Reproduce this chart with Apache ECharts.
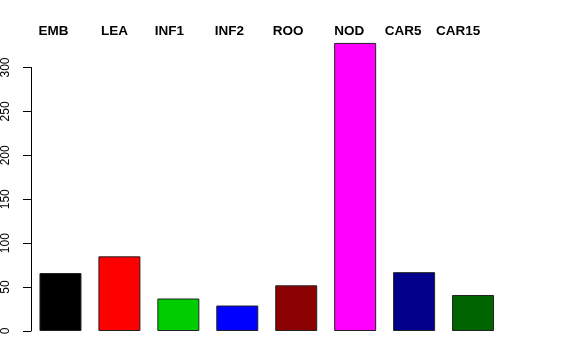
<!DOCTYPE html>
<html>
<head>
<meta charset="utf-8">
<script src="https://cdn.jsdelivr.net/npm/echarts@6/dist/echarts.min.js"></script>
<style>html,body{margin:0;padding:0;background:#fff}#c{width:576px;height:360px}</style>
</head>
<body>
<div id="c"></div>
<script>
// ---- data ----
var categories = ["EMB", "LEA", "INF1", "INF2", "ROO", "NOD", "CAR5", "CAR15"];
var values = [66, 85, 37, 29, 52, 328, 67, 41];
var barColors = ["#000000", "#FF0000", "#00CD00", "#0000FF", "#8B0000", "#FF00FF", "#00008B", "#006400"];
var yTicks = [0, 50, 100, 150, 200, 250, 300];

// ---- style (label horizontal shifts, px to the left) ----
var labelShift = [7, 5, 9, 8, 8, 6, 11, 15];

var rich = {};
categories.forEach(function (c, i) {
  rich['s' + i] = {
    fontFamily: 'Liberation Sans, Arial, Helvetica, sans-serif',
    fontWeight: 'bold', fontSize: 13.5, color: '#000',
    padding: [0, 2 * labelShift[i], 0, 0]
  };
});

var chart = echarts.init(document.getElementById('c'), null, {renderer: 'canvas'});
chart.setOption({
  animation: false,
  backgroundColor: '#fff',
  grid: {left: 29.5, width: 473, top: 67.5, bottom: 29},
  xAxis: [{
    type: 'category', data: categories, position: 'bottom',
    axisLine: {show: false}, axisTick: {show: false}, axisLabel: {show: false}
  }, {
    type: 'category', data: categories, position: 'top',
    axisLine: {show: false}, axisTick: {show: false},
    axisLabel: {
      margin: 29, interval: 0,
      formatter: function (v, i) { return '{s' + i + '|' + v + '}'; },
      rich: rich
    }
  }],
  yAxis: {
    type: 'value', min: yTicks[0], max: yTicks[yTicks.length - 1], interval: 50,
    splitLine: {show: false},
    axisLine: {show: true, lineStyle: {color: '#000', width: 1}},
    axisTick: {show: true, length: 8, lineStyle: {color: '#000', width: 1}},
    axisLabel: {
      rotate: 90, margin: 19, color: '#000', fontSize: 12,
      fontFamily: 'Liberation Sans, Arial, Helvetica, sans-serif'
    }
  },
  series: [{
    type: 'bar', xAxisIndex: 0, clip: false, barWidth: 42,
    data: values.map(function (v, i) {
      return {value: v, itemStyle: {color: barColors[i]}};
    }),
    itemStyle: {borderColor: '#222', borderWidth: 1}
  }]
});
</script>
</body>
</html>
